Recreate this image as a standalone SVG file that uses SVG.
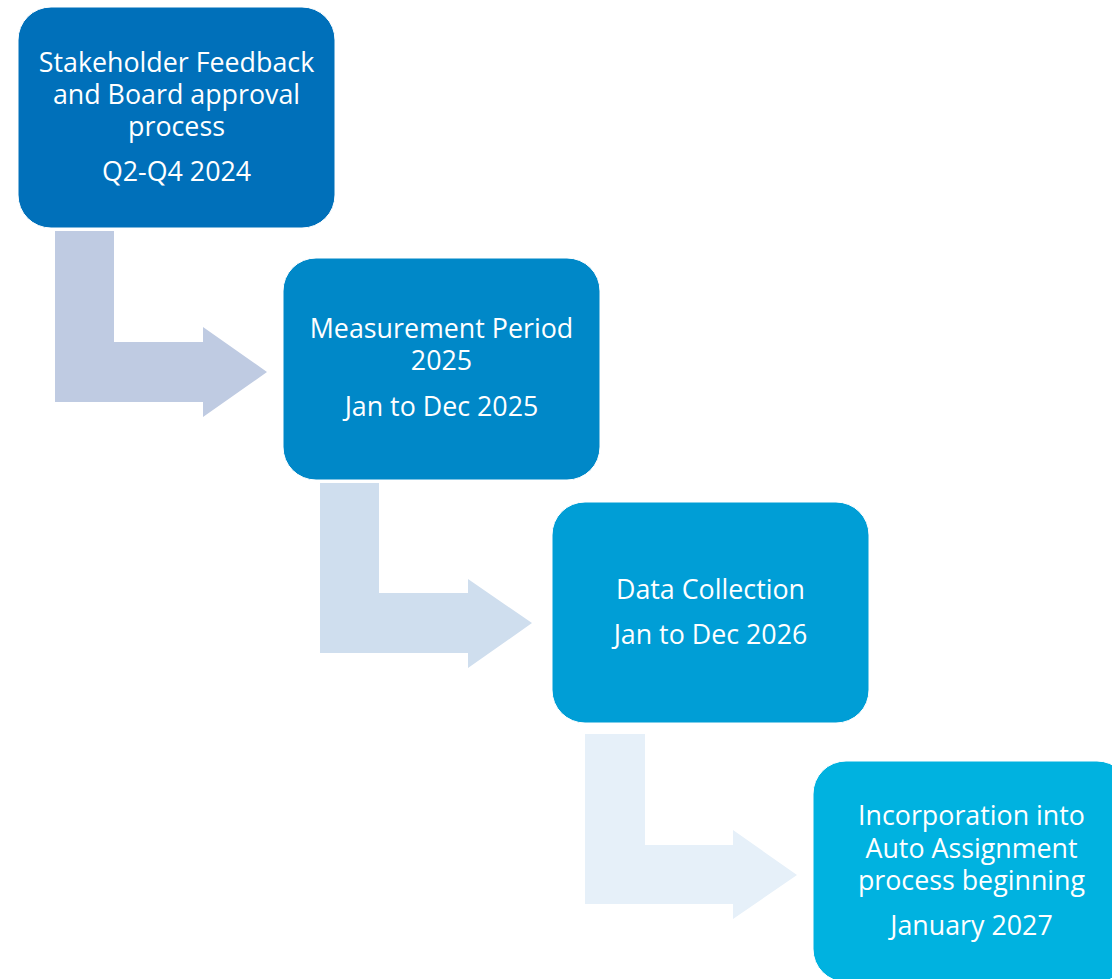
<svg xmlns="http://www.w3.org/2000/svg" width="1112" height="979" viewBox="0 0 1112 979">
  <style>
    .box { stroke: #ffffff; stroke-width: 1; }
    .lbl { font-family: "Open Sans", "Noto Sans", "Liberation Sans", sans-serif; font-size: 26.8px; fill: #ffffff; text-anchor: middle; }
  </style>
  <rect width="1112" height="979" fill="#ffffff"/>

  <!-- bent arrows linking the stages -->
  <g id="connectors">
    <path d="M55,231 H114 V342 H203 V327 L267,372 L203,417 V402 H55 Z" fill="#BFCBE2"/>
    <path d="M320,483 H379 V593 H468 V579 L532,623 L468,668 V653 H320 Z" fill="#CFDEEE"/>
    <path d="M585,734 H645 V845 H733 V830 L797,875 L733,919 V904 H585 Z" fill="#E6F0F9"/>
  </g>

  <g id="stage-feedback">
    <rect class="box" x="18" y="7" width="317" height="221" rx="33" fill="#0070BA"/>
    <text class="lbl" x="176.5" y="72">Stakeholder Feedback</text>
    <text class="lbl" x="176.5" y="104">and Board approval</text>
    <text class="lbl" x="176.5" y="136">process</text>
    <text class="lbl" x="176.5" y="181">Q2-Q4 2024</text>
  </g>

  <g id="stage-measurement">
    <rect class="box" x="283" y="258" width="317" height="222" rx="33" fill="#0088C8"/>
    <text class="lbl" x="441.5" y="338">Measurement Period</text>
    <text class="lbl" x="441.5" y="370">2025</text>
    <text class="lbl" x="441.5" y="416">Jan to Dec 2025</text>
  </g>

  <g id="stage-collection">
    <rect class="box" x="552" y="502" width="317" height="221" rx="33" fill="#009ED6"/>
    <text class="lbl" x="710.5" y="599">Data Collection</text>
    <text class="lbl" x="710.5" y="644">Jan to Dec 2026</text>
  </g>

  <g id="stage-incorporation">
    <rect class="box" x="813" y="761" width="317" height="221" rx="33" fill="#00B2E0"/>
    <text class="lbl" x="971.5" y="825">Incorporation into</text>
    <text class="lbl" x="971.5" y="858">Auto Assignment</text>
    <text class="lbl" x="971.5" y="890">process beginning</text>
    <text class="lbl" x="971.5" y="935">January 2027</text>
  </g>
</svg>
